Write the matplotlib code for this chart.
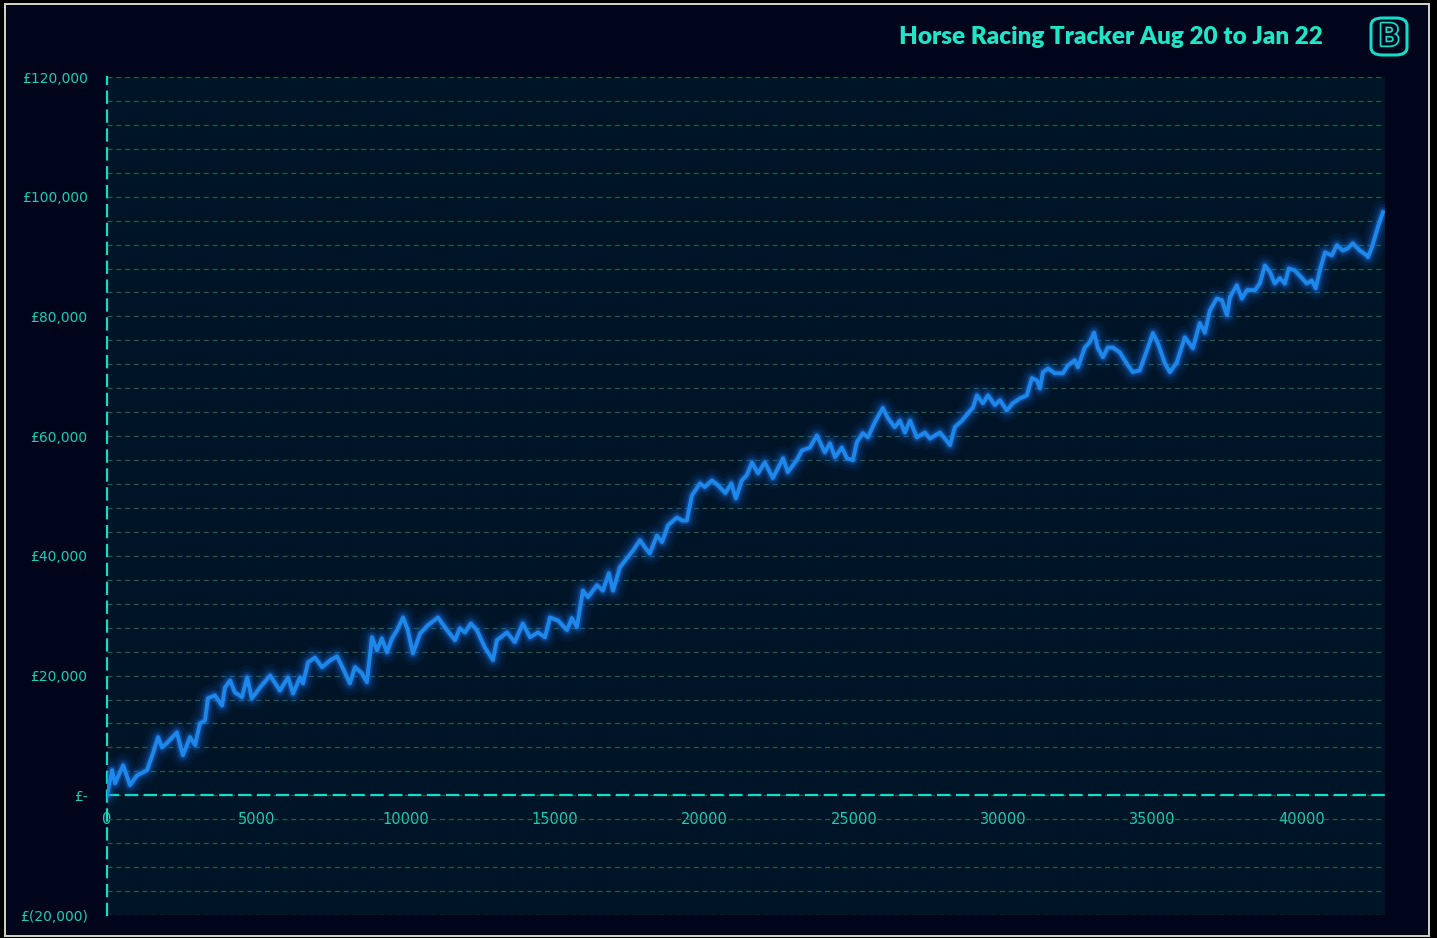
import numpy as np
import matplotlib
matplotlib.use("Agg")
import matplotlib.pyplot as plt
from matplotlib.ticker import MultipleLocator, FuncFormatter
from matplotlib.patches import Rectangle, FancyBboxPatch
import matplotlib.patheffects as pe

title = "Horse Racing Tracker Aug 20 to Jan 22"

bets = [0, 170, 270, 540, 770, 1000, 1340, 1540, 1710, 1840, 2040, 2340, 2540, 2780, 2950,
        3110, 3280, 3380, 3610, 3850, 3950, 4120, 4280, 4520, 4690, 4850, 5120, 5460, 5790,
        6060, 6230, 6460, 6560, 6730, 6960, 7200, 7460, 7700, 7900, 8130, 8300, 8530, 8700,
        8870, 9040, 9200, 9370, 9540, 9710, 9910, 10070, 10240, 10480, 10740, 11080, 11380,
        11650, 11810, 11980, 12180, 12380, 12650, 12920, 13050, 13390, 13650, 13920, 14160,
        14430, 14660, 14830, 15100, 15400, 15560, 15730, 15930, 16100, 16400, 16600, 16800,
        16940, 17170, 17440, 17610, 17840, 18010, 18170, 18410, 18580, 18780, 19080, 19250,
        19410, 19580, 19850, 20010, 20250, 20450, 20700, 20900, 21050, 21250, 21420, 21590,
        21790, 22020, 22290, 22630, 22790, 23090, 23260, 23530, 23760, 24030, 24200, 24370,
        24600, 24770, 24970, 25100, 25300, 25470, 25700, 25970, 26140, 26370, 26540, 26710,
        26880, 27110, 27380, 27550, 27880, 28050, 28220, 28380, 28620, 28820, 28990, 29120,
        29320, 29490, 29720, 29890, 30120, 30320, 30560, 30790, 30960, 31130, 31230, 31330,
        31500, 31730, 32000, 32160, 32400, 32500, 32730, 32900, 33040, 33170, 33340, 33500,
        33670, 33900, 34180, 34340, 34570, 34810, 35010, 35180, 35410, 35580, 35810, 36080,
        36350, 36580, 36750, 36920, 37150, 37320, 37490, 37590, 37820, 37990, 38160, 38430,
        38590, 38760, 38930, 39090, 39260, 39430, 39560, 39760, 40000, 40160, 40330, 40460,
        40600, 40770, 41000, 41170, 41370, 41540, 41700, 41940, 42170, 42210, 42340, 42540,
        42710]

profit_k = [0.0, 4.2, 2.0, 5.0, 1.7, 3.3, 4.2, 7.0, 9.7, 8.0, 8.9, 10.5, 6.7, 9.7, 8.4,
            12.0, 12.5, 16.2, 16.7, 15.0, 18.0, 19.2, 17.2, 16.4, 19.7, 16.2, 18.0, 20.0, 17.5,
            19.7, 17.0, 19.7, 18.7, 22.2, 23.0, 21.4, 22.5, 23.2, 21.2, 18.7, 21.4, 20.4, 18.9,
            26.4, 24.2, 26.2, 23.9, 26.2, 27.6, 29.7, 27.6, 23.7, 27.0, 28.4, 29.7, 27.6,
            25.9, 27.9, 27.2, 28.7, 27.6, 24.7, 22.6, 25.9, 27.2, 25.6, 28.7, 26.4,
            27.2, 26.4, 29.7, 29.2, 27.6, 29.6, 28.1, 34.2, 33.1, 35.1, 34.2, 37.1,
            34.2, 38.1, 39.8, 40.9, 42.6, 41.4, 40.4, 43.4, 42.3, 45.1, 46.4, 45.9,
            45.9, 50.1, 52.1, 51.5, 52.6, 51.8, 50.5, 52.1, 49.6, 52.6, 53.5, 55.6,
            53.8, 55.6, 53.0, 56.3, 54.0, 56.0, 57.6, 58.1, 60.1, 57.3, 58.8, 56.5,
            58.1, 56.3, 56.0, 59.0, 60.5, 59.8, 62.3, 64.7, 63.0, 61.5, 62.6, 60.6,
            62.6, 59.8, 60.6, 59.6, 60.6, 59.6, 58.5, 61.5, 62.6, 63.8, 64.8, 66.8,
            65.5, 66.8, 65.2, 66.0, 64.3, 65.5, 66.3, 66.8, 69.7, 69.3, 68.0, 70.7,
            71.3, 70.5, 70.5, 71.8, 72.7, 71.5, 74.8, 75.7, 77.3, 74.7, 73.2, 74.8,
            74.8, 74.0, 71.8, 70.7, 71.0, 74.3, 77.2, 75.5, 72.2, 70.7, 72.3, 76.5,
            74.7, 78.9, 77.3, 81.0, 83.0, 82.7, 80.2, 83.2, 85.2, 83.0, 84.4, 84.4,
            85.5, 88.5, 87.4, 85.5, 86.4, 85.5, 88.0, 87.7, 86.4, 85.5, 86.0, 84.7,
            87.7, 90.7, 90.2, 91.9, 91.0, 91.4, 92.2, 91.0, 90.2, 89.9, 91.5, 94.9,
            97.4]

x_ticks = [0, 5000, 10000, 15000, 20000, 25000, 30000, 35000, 40000]
y_ticks = [-20000, 0, 20000, 40000, 60000, 80000, 100000, 120000]

profit = np.array(profit_k) * 1000.0

W, H = 1437, 938
fig = plt.figure(figsize=(W / 100, H / 100), dpi=100, facecolor="#000000")

# outer panel with light border
panel = Rectangle((5 / W, 2 / H), (1429 - 5) / W, (932 - 0) / H, transform=fig.transFigure,
                  facecolor="#00051c", edgecolor="#d6d6c6", linewidth=1.4, zorder=-10)
fig.patches.append(panel)

ax = fig.add_axes([107 / W, 1 - 915 / H, (1385 - 107) / W, (915 - 77) / H])
ax.set_zorder(1)
ax.set_facecolor("#001428")

ax.set_xlim(0, 42780)
ax.set_ylim(-20000, 120000)

label_col = "#1fcdb4"
cyan = "#14dcc6"

# gridlines
ax.yaxis.set_major_locator(MultipleLocator(20000))
ax.yaxis.set_minor_locator(MultipleLocator(4000))
ax.set_yticks(y_ticks)
ax.grid(which="both", axis="y", color="#1f5e40", linestyle=(0, (4, 3)), linewidth=0.9, zorder=0)
ax.grid(which="both", axis="x", visible=False)
ax.set_axisbelow(True)

def money(v, pos):
    if abs(v) < 1:
        return "£-"
    if v < 0:
        return "£({:,.0f})".format(-v)
    return "£{:,.0f}".format(v)

ax.yaxis.set_major_formatter(FuncFormatter(money))
ax.set_xticks(x_ticks)
ax.set_xticklabels([str(t) for t in x_ticks])

ax.tick_params(axis="y", which="both", length=0, pad=14, labelsize=10, labelcolor=label_col)
ax.tick_params(axis="x", which="both", length=0, pad=12, labelsize=10.5, labelcolor=label_col)
for lab in ax.get_xticklabels() + ax.get_yticklabels():
    lab.set_fontfamily("Lato")

for s in ["top", "right"]:
    ax.spines[s].set_visible(False)
ax.spines["bottom"].set_position(("data", 0))
ax.spines["left"].set_position(("data", 0))
for s in ["bottom", "left"]:
    ax.spines[s].set_color(cyan)
    ax.spines[s].set_linewidth(1.6)
    ax.spines[s].set_linestyle((0, (5, 3.5)))
    ax.spines[s].set_zorder(3)

# glowing line
glow = "#1a70e6"
for lw, a in [(17, 0.06), (12, 0.10), (8, 0.18), (5, 0.35)]:
    ax.plot(bets, profit, color=glow, linewidth=lw, alpha=a, solid_capstyle="round",
            solid_joinstyle="round", zorder=4)
ax.plot(bets, profit, color="#1e88ea", linewidth=2.8, solid_joinstyle="round", zorder=5)

# title
fig.text(1323 / W, 1 - 37 / H, title, ha="right", va="center", fontsize=17.5,
         fontweight="heavy", color="#1ee6c6", fontfamily="Lato", zorder=5)

# logo
logo = FancyBboxPatch((1371 / W, 1 - 55 / H), 36 / W, 37 / H,
                      boxstyle="round,pad=0,rounding_size=0.008", transform=fig.transFigure,
                      facecolor="none", edgecolor="#14dcc6", linewidth=2.2, zorder=5)
fig.patches.append(logo)
fig.text(1389 / W, 1 - 36.5 / H, "B", ha="center", va="center", fontsize=22,
         fontweight="bold", color="#00051c", fontfamily="Lato", zorder=6,
         path_effects=[pe.Stroke(linewidth=2.5, foreground="#14dcc6"), pe.Normal()])

fig.savefig("out.png", dpi=100, facecolor=fig.get_facecolor())
